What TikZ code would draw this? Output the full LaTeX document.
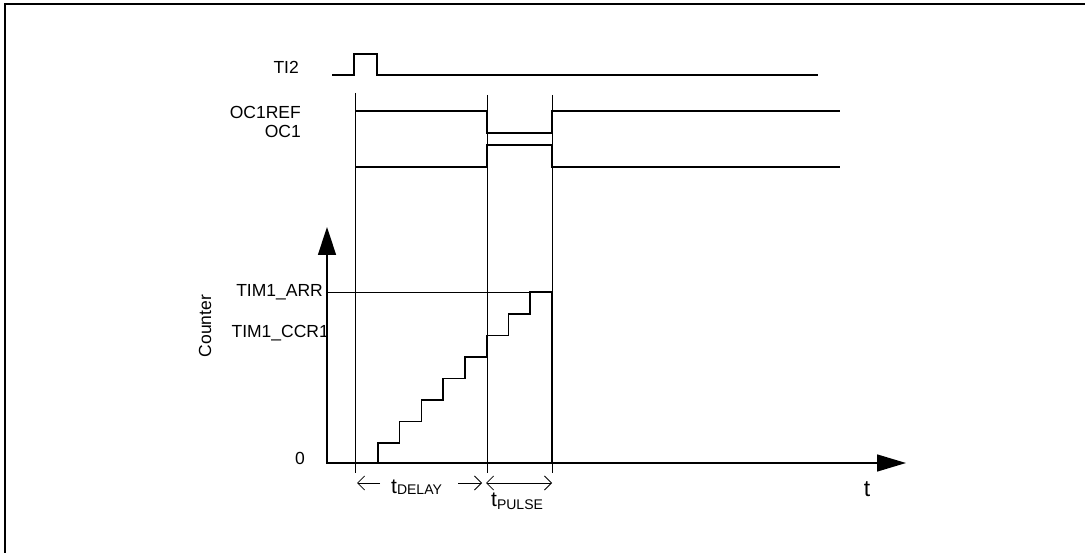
\documentclass[tikz,border=0pt]{standalone}
\usepackage{fontspec}
\setmainfont{Liberation Sans}
\usetikzlibrary{arrows.meta}
\begin{document}
\begin{tikzpicture}[x=1pt,y=-1pt,
  sig/.style={line width=1.5pt},
  guide/.style={line width=0.8pt},
  lbl/.style={font=\fontsize{17.5}{20}\selectfont, inner sep=0pt},
  barb/.style={guide, arrows={-{Straight Barb[length=7pt,width=14pt,line width=0.8pt]}}},
  dbarb/.style={guide, arrows={{Straight Barb[length=7pt,width=14pt,line width=0.8pt]}-{Straight Barb[length=7pt,width=14pt,line width=0.8pt]}}}]
\useasboundingbox (0,0) rectangle (1085,553);
% frame
\draw[line width=2.2pt] (5,553) -- (5,4) -- (1085,4);

% labels of signals
\node[lbl, anchor=east] (ti2) at (299,67) {TI2};
\node[lbl, anchor=east] (oc1ref) at (301,112) {OC1REF};
\node[lbl, anchor=east] (oc1) at (301,131) {OC1};

% guides
\coordinate (g1t) at (355,93);  \coordinate (g1b) at (355,473);
\coordinate (g2t) at (487,95);  \coordinate (g2b) at (487,473);
\coordinate (g3t) at (552,95);  \coordinate (g3b) at (552,473);
\draw[guide] (g1t) -- (g1b);
\draw[guide] (g2t) -- (g2b);
\draw[guide] (g3t) -- (g3b);

% TI2
\draw[sig] (332,75) -- (354,75) -- (354,54) -- (377,54) -- (377,75) -- (818,75);
% OC1REF
\draw[sig] (355,111) -- (487,111) -- (487,133) -- (552,133) -- (552,111) -- (840,111);
% OC1
\draw[sig] (355,167) -- (487,167) -- (487,145) -- (552,145) -- (552,167) -- (840,167);

% counter labels
\node[lbl, anchor=east] (arr) at (323,292) {TIM1\_ARR};
\node[lbl, anchor=east] (ccr) at (329,333) {TIM1\_CCR1};
\node[lbl] (zero) at (300,458) {0};
\node[lbl, rotate=90] (cnt) at (205,326) {Counter};

% ARR level
\draw[guide] (327,292) -- (552,292);

% axes
\coordinate (ytip) at (327,227);
\coordinate (orig) at (327,463);
\coordinate (xtip) at (906,463);
\draw[sig, {Triangle[length=28pt,width=18pt]}-{Triangle[length=29pt,width=17pt]}] (ytip) -- (orig) -- (xtip);

% staircase
\draw[sig] (378,463) -- (378,443) -- (399.7,443) -- (399.7,421.5) -- (421.4,421.5) -- (421.4,400)
  -- (443.1,400) -- (443.1,378.5) -- (464.8,378.5) -- (464.8,357) -- (487,357) -- (487,335.5)
  -- (508.5,335.5) -- (508.5,314) -- (530,314) -- (530,292) -- (552,292) -- (552,463);

% time labels
\coordinate (dl1) at (380,483); \coordinate (dl2) at (357,483);
\coordinate (dr1) at (458,483); \coordinate (dr2) at (482,483);
\coordinate (p1) at (486,483);  \coordinate (p2) at (552,483);
\draw[barb] (dl1) -- (dl2);
\draw[barb] (dr1) -- (dr2);
\draw[dbarb] (p1) -- (p2);
\node[inner sep=0pt, anchor=base west] (tdelay) at (391,493)
  {{\fontsize{21}{23}\selectfont t}{\fontsize{14}{16}\selectfont\raisebox{-1.5pt}{DELAY}}};
\node[inner sep=0pt, anchor=base west] (tpulse) at (491,506)
  {{\fontsize{21}{23}\selectfont t}{\fontsize{14}{16}\selectfont\raisebox{-3pt}{PULSE}}};
\node[inner sep=0pt, font=\fontsize{23}{25}\selectfont] (tax) at (867,489) {t};
\end{tikzpicture}
\end{document}
